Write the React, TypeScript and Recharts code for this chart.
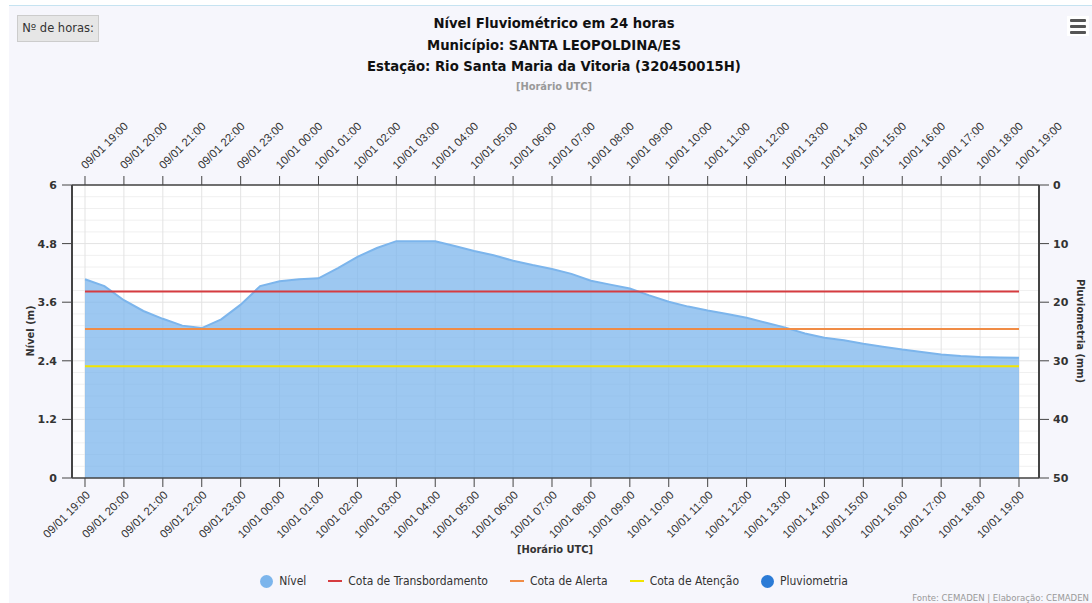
import React from 'react'
import {
  ComposedChart,
  Area,
  Line,
  Bar,
  XAxis,
  YAxis,
  CartesianGrid,
} from 'recharts'

// half-hour steps, 0 = 09/01 19:00
const steps = [
  0, 0.5, 1, 1.5, 2, 2.5, 3, 3.5, 4, 4.5, 5, 5.5, 6, 6.5, 7, 7.5, 8, 8.5, 9, 9.5, 10, 10.5, 11, 11.5,
  12, 12.5, 13, 13.5, 14, 14.5, 15, 15.5, 16, 16.5, 17, 17.5, 18, 18.5, 19, 19.5, 20, 20.5, 21, 21.5,
  22, 22.5, 23, 23.5, 24,
]
const nivel = [
  4.07, 3.93, 3.64, 3.42, 3.26, 3.12, 3.07, 3.25, 3.55, 3.93, 4.03, 4.07, 4.09, 4.3, 4.53, 4.71, 4.85,
  4.85, 4.85, 4.75, 4.65, 4.56, 4.45, 4.36, 4.28, 4.18, 4.04, 3.96, 3.88, 3.74, 3.61, 3.51, 3.43, 3.36,
  3.28, 3.18, 3.08, 2.96, 2.87, 2.82, 2.75, 2.69, 2.63, 2.58, 2.53, 2.5, 2.48, 2.47, 2.46,
]
const pluviometria = steps.map(() => 0)

const cotaTransbordamento = 3.82
const cotaAlerta = 3.05
const cotaAtencao = 2.29

const hourTicks = [0, 1, 2, 3, 4, 5, 6, 7, 8, 9, 10, 11, 12, 13, 14, 15, 16, 17, 18, 19, 20, 21, 22, 23, 24]
const hourLabels = [
  '09/01 19:00', '09/01 20:00', '09/01 21:00', '09/01 22:00', '09/01 23:00',
  '10/01 00:00', '10/01 01:00', '10/01 02:00', '10/01 03:00', '10/01 04:00',
  '10/01 05:00', '10/01 06:00', '10/01 07:00', '10/01 08:00', '10/01 09:00',
  '10/01 10:00', '10/01 11:00', '10/01 12:00', '10/01 13:00', '10/01 14:00',
  '10/01 15:00', '10/01 16:00', '10/01 17:00', '10/01 18:00', '10/01 19:00',
]
const nivelTicks = [0, 1.2, 2.4, 3.6, 4.8, 6]
const nivelMinor = [
  0.24, 0.48, 0.72, 0.96, 1.44, 1.68, 1.92, 2.16, 2.64, 2.88, 3.12, 3.36, 3.84, 4.08, 4.32, 4.56,
  5.04, 5.28, 5.52, 5.76,
]
const pluvTicks = [0, 10, 20, 30, 40, 50]

const COLORS = {
  nivel: '#7cb5ec',
  transbordamento: '#d63c40',
  alerta: '#f08c46',
  atencao: '#f2e400',
  pluv: '#2b7bd6',
  axis: '#444',
  text: '#333',
}

const FONT = "'DejaVu Sans', sans-serif"
const TICK_FONT = "'Liberation Sans', Arial, sans-serif"

const chartData = steps.map((i, k) => ({
  i,
  nivel: nivel[k],
  transbordamento: cotaTransbordamento,
  alerta: cotaAlerta,
  atencao: cotaAtencao,
  pluv: pluviometria[k],
}))

function BottomTick({ x, y, payload }: any) {
  const label = hourLabels[hourTicks.indexOf(payload.value)]
  return (
    <text
      x={x + 3}
      y={y + 4}
      textAnchor="end"
      dominantBaseline="central"
      transform={`rotate(-45, ${x + 3}, ${y + 4})`}
      fontSize={11.5}
      fontFamily={TICK_FONT}
      fill={COLORS.text}
    >
      {label}
    </text>
  )
}

function TopTick({ x, y, payload }: any) {
  const label = hourLabels[hourTicks.indexOf(payload.value)]
  return (
    <text
      x={x - 2}
      y={y - 7}
      textAnchor="start"
      dominantBaseline="central"
      transform={`rotate(-45, ${x - 2}, ${y - 7})`}
      fontSize={11.5}
      fontFamily={TICK_FONT}
      fill={COLORS.text}
    >
      {label}
    </text>
  )
}

const legendItems = [
  { name: 'Nível', color: COLORS.nivel, kind: 'dot' },
  { name: 'Cota de Transbordamento', color: COLORS.transbordamento, kind: 'line' },
  { name: 'Cota de Alerta', color: COLORS.alerta, kind: 'line' },
  { name: 'Cota de Atenção', color: COLORS.atencao, kind: 'line' },
  { name: 'Pluviometria', color: COLORS.pluv, kind: 'dot' },
]

export default function App() {
  const yTick = { fontSize: 11, fontWeight: 'bold', fill: COLORS.text, fontFamily: FONT }
  return (
    <div
      style={{
        position: 'absolute',
        left: 0,
        top: 0,
        width: 1092,
        height: 603,
        background: '#fff',
        fontFamily: FONT,
        overflow: 'hidden',
      }}
    >
      <div
        style={{
          position: 'absolute',
          left: 9,
          top: 5,
          right: 0,
          bottom: 0,
          background: '#f6f6fc',
          borderTop: '1px solid #c6e3f1',
        }}
      />

      <div style={{ position: 'absolute', left: 0, top: 0 }}>
        <ComposedChart
          width={1092}
          height={603}
          data={chartData}
          margin={{ top: 125, right: 23, bottom: 65, left: 42 }}
        >
          <CartesianGrid
            fill="#fff"
            stroke="#f0f0f0"
            vertical={false}
            horizontalValues={nivelMinor}
          />
          <CartesianGrid
            stroke="#e3e3e3"
            verticalValues={hourTicks}
            horizontalValues={nivelTicks}
          />
          <XAxis
            dataKey="i"
            type="number"
            domain={[-0.334, 24.514]}
            ticks={hourTicks}
            interval={0}
            height={60}
            tickSize={9}
            tick={<BottomTick />}
            axisLine={{ stroke: COLORS.axis, strokeWidth: 1.5 }}
            tickLine={{ stroke: COLORS.axis }}
            allowDataOverflow
          />
          <XAxis
            xAxisId="top"
            orientation="top"
            dataKey="i"
            type="number"
            domain={[-0.334, 24.514]}
            ticks={hourTicks}
            interval={0}
            height={60}
            tickSize={9}
            tick={<TopTick />}
            axisLine={{ stroke: COLORS.axis, strokeWidth: 1.5 }}
            tickLine={{ stroke: COLORS.axis }}
            allowDataOverflow
          />
          <YAxis
            type="number"
            domain={[0, 6]}
            ticks={nivelTicks}
            interval={0}
            width={30}
            tickSize={10}
            tickMargin={5}
            tick={yTick}
            axisLine={{ stroke: COLORS.axis, strokeWidth: 2 }}
            tickLine={{ stroke: COLORS.axis }}
          />
          <YAxis
            yAxisId="right"
            orientation="right"
            type="number"
            domain={[0, 50]}
            reversed
            ticks={pluvTicks}
            interval={0}
            width={30}
            tickSize={10}
            tickMargin={4}
            tick={{ ...yTick, textAnchor: 'start' }}
            axisLine={{ stroke: COLORS.axis, strokeWidth: 2 }}
            tickLine={{ stroke: COLORS.axis }}
          />
          <Area
            type="linear"
            dataKey="nivel"
            name="Nível"
            stroke={COLORS.nivel}
            strokeWidth={2}
            fill={COLORS.nivel}
            fillOpacity={0.75}
            baseValue={0}
            isAnimationActive={false}
          />
          <Line
            type="linear"
            dataKey="transbordamento"
            name="Cota de Transbordamento"
            stroke={COLORS.transbordamento}
            strokeWidth={2}
            dot={false}
            isAnimationActive={false}
          />
          <Line
            type="linear"
            dataKey="alerta"
            name="Cota de Alerta"
            stroke={COLORS.alerta}
            strokeWidth={2}
            dot={false}
            isAnimationActive={false}
          />
          <Line
            type="linear"
            dataKey="atencao"
            name="Cota de Atenção"
            stroke={COLORS.atencao}
            strokeWidth={2}
            dot={false}
            isAnimationActive={false}
          />
          <Bar
            yAxisId="right"
            dataKey="pluv"
            name="Pluviometria"
            fill={COLORS.pluv}
            barSize={10}
            isAnimationActive={false}
          />
        </ComposedChart>
      </div>

      {/* Nº de horas button */}
      <div
        style={{
          position: 'absolute',
          left: 17,
          top: 15,
          width: 82,
          height: 27,
          background: '#e6e6e6',
          border: '1px solid #cccccc',
          boxSizing: 'border-box',
          fontSize: 11.5,
          color: '#333',
          lineHeight: '25px',
          textAlign: 'center',
        }}
      >
        Nº de horas:
      </div>

      {/* menu icon */}
      <div style={{ position: 'absolute', left: 1067, top: 16, width: 22, height: 20, background: '#fff' }}>
        {[3, 9, 15].map((t) => (
          <div
            key={t}
            style={{ position: 'absolute', left: 3, top: t, width: 16, height: 3, background: '#555', borderRadius: 1 }}
          />
        ))}
      </div>

      {/* title */}
      <div
        style={{
          position: 'absolute',
          left: 0,
          top: 12,
          width: 1108,
          textAlign: 'center',
          fontSize: 14.7,
          fontWeight: 'bold',
          fontStretch: 'condensed',
          color: '#111',
          lineHeight: '21.5px',
        }}
      >
        <div>Nível Fluviométrico em 24 horas</div>
        <div>Município: SANTA LEOPOLDINA/ES</div>
        <div>Estação: Rio Santa Maria da Vitoria (320450015H)</div>
      </div>
      <div
        style={{
          position: 'absolute',
          left: 0,
          top: 80,
          width: 1108,
          textAlign: 'center',
          fontSize: 11,
          fontWeight: 'bold',
          fontStretch: 'condensed',
          color: '#999',
        }}
      >
        [Horário UTC]
      </div>

      {/* axis titles */}
      <div
        style={{
          position: 'absolute',
          left: 30,
          top: 331,
          transform: 'translate(-50%, -50%) rotate(-90deg)',
          fontSize: 11,
          fontWeight: 'bold',
          fontStretch: 'condensed',
          color: COLORS.text,
          whiteSpace: 'nowrap',
        }}
      >
        Nível (m)
      </div>
      <div
        style={{
          position: 'absolute',
          left: 1080,
          top: 331,
          transform: 'translate(-50%, -50%) rotate(90deg)',
          fontSize: 11,
          fontWeight: 'bold',
          fontStretch: 'condensed',
          color: COLORS.text,
          whiteSpace: 'nowrap',
        }}
      >
        Pluviometria (mm)
      </div>
      <div
        style={{
          position: 'absolute',
          left: 0,
          top: 543,
          width: 1110,
          textAlign: 'center',
          fontSize: 11,
          fontWeight: 'bold',
          fontStretch: 'condensed',
          color: COLORS.text,
        }}
      >
        [Horário UTC]
      </div>

      {/* legend */}
      <div
        style={{
          position: 'absolute',
          left: 0,
          top: 572,
          width: 1108,
          height: 18,
          display: 'flex',
          justifyContent: 'center',
          alignItems: 'center',
          gap: 22,
          fontSize: 12,
          fontStretch: 'condensed',
          color: COLORS.text,
        }}
      >
        {legendItems.map((it) => (
          <div key={it.name} style={{ display: 'flex', alignItems: 'center', gap: 6 }}>
            {it.kind === 'dot' ? (
              <span
                style={{ width: 13, height: 13, borderRadius: '50%', background: it.color, display: 'inline-block' }}
              />
            ) : (
              <span style={{ width: 14, height: 2, background: it.color, display: 'inline-block' }} />
            )}
            <span>{it.name}</span>
          </div>
        ))}
      </div>

      {/* credits */}
      <div
        style={{
          position: 'absolute',
          right: 3,
          top: 592,
          fontSize: 9.5,
          color: '#999',
          fontStretch: 'condensed',
          whiteSpace: 'nowrap',
        }}
      >
        Fonte: CEMADEN | Elaboração: CEMADEN
      </div>
    </div>
  )
}
